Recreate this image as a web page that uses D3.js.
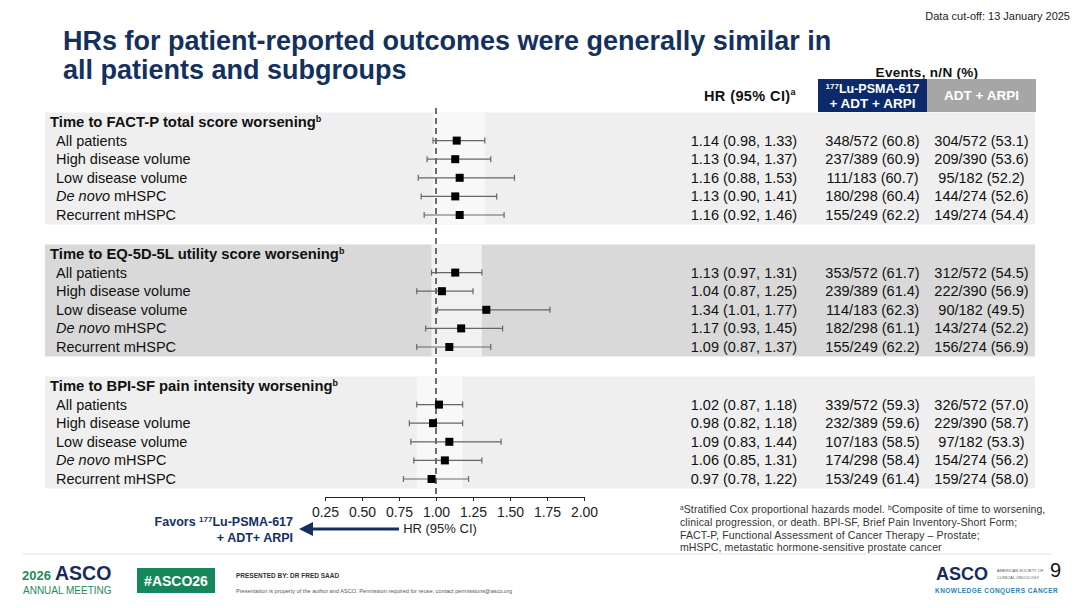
<!DOCTYPE html>
<html>
<head>
<meta charset="utf-8">
<script src="https://cdn.jsdelivr.net/npm/d3@7"></script>
<style>
  html, body { margin:0; padding:0; background:#fff; }
  svg { display:block; font-family:"Liberation Sans", Arial, sans-serif; }
</style>
</head>
<body>
<div id="chart"></div>
<script>
// Data
const sections = ["Time to FACT-P total score worsening", "Time to EQ-5D-5L utility score worsening", "Time to BPI-SF pain intensity worsening"];
const subgroups = ["All patients", "High disease volume", "Low disease volume", "De novo mHSPC", "Recurrent mHSPC"];
const hrValues = [
  [1.14, 1.13, 1.16, 1.13, 1.16],
  [1.13, 1.04, 1.34, 1.17, 1.09],
  [1.02, 0.98, 1.09, 1.06, 0.97]
];
const ciLow = [
  [0.98, 0.94, 0.88, 0.90, 0.92],
  [0.97, 0.87, 1.01, 0.93, 0.87],
  [0.87, 0.82, 0.83, 0.85, 0.78]
];
const ciHigh = [
  [1.33, 1.37, 1.53, 1.41, 1.46],
  [1.31, 1.25, 1.77, 1.45, 1.37],
  [1.18, 1.18, 1.44, 1.31, 1.22]
];
const eventsLu = [
  ["348/572 (60.8)", "237/389 (60.9)", "111/183 (60.7)", "180/298 (60.4)", "155/249 (62.2)"],
  ["353/572 (61.7)", "239/389 (61.4)", "114/183 (62.3)", "182/298 (61.1)", "155/249 (62.2)"],
  ["339/572 (59.3)", "232/389 (59.6)", "107/183 (58.5)", "174/298 (58.4)", "153/249 (61.4)"]
];
const eventsCtrl = [
  ["304/572 (53.1)", "209/390 (53.6)", "95/182 (52.2)", "144/274 (52.6)", "149/274 (54.4)"],
  ["312/572 (54.5)", "222/390 (56.9)", "90/182 (49.5)", "143/274 (52.2)", "156/274 (56.9)"],
  ["326/572 (57.0)", "229/390 (58.7)", "97/182 (53.3)", "154/274 (56.2)", "159/274 (58.0)"]
];
const tickValues = [0.25, 0.50, 0.75, 1.00, 1.25, 1.50, 1.75, 2.00];
const footnoteLines = [
  "clinical progression, or death. BPI-SF, Brief Pain Inventory-Short Form;",
  "FACT-P, Functional Assessment of Cancer Therapy \u2013 Prostate;",
  "mHSPC, metastatic hormone-sensitive prostate cancer"
];

const W = 1080, H = 608;
const navy = "#14305f", boxBlue = "#0c2a6b";
const svg = d3.select("#chart").append("svg").attr("width", W).attr("height", H);

// scales
const x = d3.scaleLinear().domain([0.25, 2.0]).range([325, 584]);
const secY = d3.scalePoint().domain(sections).range([122, 386]);
const rowY = d3.scaleLinear().domain([0, 5]).range([0, 93]);
const yOf = (s, r) => secY(sections[s]) + rowY(r);

// header text
svg.append("text").attr("x", 1070).attr("y", 20).attr("text-anchor", "end")
  .attr("font-size", 11).attr("fill", "#222").text("Data cut-off: 13 January 2025");
const title = svg.append("text").attr("font-size", 27).attr("font-weight", "bold").attr("fill", navy);
title.append("tspan").attr("x", 63).attr("y", 50).text("HRs for patient-reported outcomes were generally similar in");
title.append("tspan").attr("x", 63).attr("y", 79).text("all patients and subgroups");

// panel backgrounds
const panelFill = ["#efefef", "#d9d9d9", "#efefef"];
const bandFill = ["#f8f8f8", "#f1f1f1", "#f8f8f8"];
sections.forEach((s, i) => {
  const top = yOf(i, 0) - 9.5, bot = yOf(i, 5) + 9.5;
  svg.append("rect").attr("x", 45).attr("y", top).attr("width", 990).attr("height", bot - top).attr("fill", panelFill[i]);
  // lighter band = CI of all patients
  svg.append("rect").attr("x", x(ciLow[i][0])).attr("y", top)
    .attr("width", x(ciHigh[i][0]) - x(ciLow[i][0])).attr("height", bot - top).attr("fill", bandFill[i]);
});

// column headers
svg.append("text").attr("x", 927).attr("y", 77).attr("text-anchor", "middle")
  .attr("font-size", 13.5).attr("letter-spacing", 0.3).attr("font-weight", "bold").attr("fill", "#111").text("Events, n/N (%)");
const hrHead = svg.append("text").attr("x", 750).attr("y", 101).attr("text-anchor", "middle")
  .attr("font-size", 14.5).attr("letter-spacing", 0.4).attr("font-weight", "bold").attr("fill", "#111");
hrHead.append("tspan").text("HR (95% CI)");
hrHead.append("tspan").attr("font-size", 9).attr("dy", -6).text("a");
svg.append("rect").attr("x", 818).attr("y", 79).attr("width", 109).attr("height", 33).attr("fill", boxBlue);
svg.append("rect").attr("x", 927).attr("y", 79).attr("width", 109).attr("height", 33).attr("fill", "#a6a6a6");
const luHead = svg.append("text").attr("text-anchor", "middle").attr("font-size", 12.5)
  .attr("font-weight", "bold").attr("fill", "#fff");
const l1 = luHead.append("tspan").attr("x", 872.5).attr("y", 93);
l1.append("tspan").attr("font-size", 8).attr("dy", -4).text("177");
l1.append("tspan").attr("dy", 4).text("Lu-PSMA-617");
luHead.append("tspan").attr("x", 872.5).attr("y", 108).attr("font-size", 13.5).text("+ ADT + ARPI");
svg.append("text").attr("x", 981.5).attr("y", 100).attr("text-anchor", "middle").attr("font-size", 13.5)
  .attr("font-weight", "bold").attr("fill", "#fff").text("ADT + ARPI");

// reference line at HR = 1
svg.append("line").attr("x1", x(1)).attr("x2", x(1)).attr("y1", 108).attr("y2", 497)
  .attr("stroke", "#111").attr("stroke-width", 1.2).attr("stroke-dasharray", "6,4");

const fmt = d3.format(".2f");
sections.forEach((sec, i) => {
  const hy = yOf(i, 0);
  const ht = svg.append("text").attr("x", 50).attr("y", hy).attr("dy", "0.35em")
    .attr("font-size", 14.8).attr("font-weight", "bold").attr("fill", "#111");
  ht.append("tspan").text(sec);
  ht.append("tspan").attr("font-size", 9).attr("dy", -5).text("b");

  const rows = subgroups.map((g, j) => ({
    g, hr: hrValues[i][j], lo: ciLow[i][j], hi: ciHigh[i][j],
    e1: eventsLu[i][j], e2: eventsCtrl[i][j], y: yOf(i, j + 1)
  }));
  const grp = svg.append("g");
  // labels
  grp.selectAll("text.lab").data(rows).join("text").attr("class", "lab")
    .attr("x", 56).attr("y", d => d.y).attr("dy", "0.35em").attr("font-size", 14.5).attr("fill", "#111")
    .each(function(d) {
      const t = d3.select(this);
      if (d.g.startsWith("De novo")) {
        t.append("tspan").attr("font-style", "italic").text("De novo");
        t.append("tspan").text(" mHSPC");
      } else t.text(d.g);
    });
  // CI whiskers
  grp.selectAll("line.ci").data(rows).join("line").attr("class", "ci")
    .attr("x1", d => x(d.lo)).attr("x2", d => x(d.hi)).attr("y1", d => d.y).attr("y2", d => d.y)
    .attr("stroke", "#666").attr("stroke-width", 1.2);
  ["lo", "hi"].forEach(k => {
    grp.selectAll("line.cap" + k).data(rows).join("line").attr("class", "cap" + k)
      .attr("x1", d => x(d[k])).attr("x2", d => x(d[k])).attr("y1", d => d.y - 3).attr("y2", d => d.y + 3)
      .attr("stroke", "#666").attr("stroke-width", 1.2);
  });
  grp.selectAll("rect.pt").data(rows).join("rect").attr("class", "pt")
    .attr("x", d => x(d.hr) - 4).attr("y", d => d.y - 4).attr("width", 8).attr("height", 8).attr("fill", "#000");
  // value columns
  grp.selectAll("text.hr").data(rows).join("text").attr("class", "hr")
    .attr("x", 744).attr("y", d => d.y).attr("dy", "0.35em").attr("text-anchor", "middle")
    .attr("font-size", 14.5).attr("fill", "#111")
    .text(d => `${fmt(d.hr)} (${fmt(d.lo)}, ${fmt(d.hi)})`);
  grp.selectAll("text.e1").data(rows).join("text").attr("class", "e1")
    .attr("x", 872.5).attr("y", d => d.y).attr("dy", "0.35em").attr("text-anchor", "middle")
    .attr("font-size", 14.5).attr("fill", "#111").text(d => d.e1);
  grp.selectAll("text.e2").data(rows).join("text").attr("class", "e2")
    .attr("x", 981.5).attr("y", d => d.y).attr("dy", "0.35em").attr("text-anchor", "middle")
    .attr("font-size", 14.5).attr("fill", "#111").text(d => d.e2);
});

// x axis
const ax = svg.append("g").attr("transform", "translate(0,497)")
  .call(d3.axisBottom(x).tickValues(tickValues).tickFormat(fmt).tickSizeInner(4).tickSizeOuter(0).tickPadding(6));
ax.select(".domain").attr("stroke", "#222");
ax.selectAll(".tick line").attr("stroke", "#222");
ax.selectAll(".tick text").attr("font-size", 14).attr("fill", "#222").attr("font-family", "Liberation Sans, Arial, sans-serif");
svg.append("text").attr("x", 440).attr("y", 533).attr("text-anchor", "middle")
  .attr("font-size", 13).attr("fill", "#222").text("HR (95% CI)");

// favours arrow
svg.append("line").attr("x1", 399).attr("x2", 310).attr("y1", 529).attr("y2", 529)
  .attr("stroke", navy).attr("stroke-width", 3);
svg.append("path").attr("d", "M299,529 L313,522 L313,536 Z").attr("fill", navy);
const fav = svg.append("text").attr("text-anchor", "end").attr("font-size", 12.5).attr("font-weight", "bold").attr("fill", navy);
const f1 = fav.append("tspan").attr("x", 293).attr("y", 526);
f1.append("tspan").text("Favors ");
f1.append("tspan").attr("font-size", 8).attr("dy", -4).text("177");
f1.append("tspan").attr("dy", 4).text("Lu-PSMA-617");
fav.append("tspan").attr("x", 293).attr("y", 542).text("+ ADT+ ARPI");

// footnotes
const fn = svg.append("text").attr("font-size", 10.5).attr("letter-spacing", 0.12).attr("fill", "#333");
const fl1 = fn.append("tspan").attr("x", 680).attr("y", 513);
fl1.append("tspan").attr("font-size", 6.5).attr("dy", -3).text("a");
fl1.append("tspan").attr("dy", 3).text("Stratified Cox proportional hazards model. ");
fl1.append("tspan").attr("font-size", 6.5).attr("dy", -3).text("b");
fl1.append("tspan").attr("dy", 3).text("Composite of time to worsening,");
footnoteLines.forEach((t, k) => fn.append("tspan").attr("x", 680).attr("y", 526 + k * 12.5).text(t));

// footer
svg.append("line").attr("x1", 22).attr("x2", 1052).attr("y1", 554).attr("y2", 554).attr("stroke", "#e3e3e3");
const green = "#1f8a5c";
svg.append("text").attr("x", 22).attr("y", 580).attr("font-size", 13).attr("fill", green).attr("font-weight", "bold").text("2026");
svg.append("text").attr("x", 55).attr("y", 580).attr("font-size", 19.5).attr("fill", "#1a2a5c").attr("font-weight", "bold").text("ASCO");
svg.append("text").attr("x", 23).attr("y", 594).attr("font-size", 10).attr("fill", green).text("ANNUAL MEETING");
svg.append("rect").attr("x", 137).attr("y", 568).attr("width", 78).attr("height", 25).attr("fill", "#16875a");
svg.append("text").attr("x", 176).attr("y", 586).attr("text-anchor", "middle").attr("font-size", 14)
  .attr("font-weight", "bold").attr("fill", "#fff").text("#ASCO26");
svg.append("text").attr("x", 236).attr("y", 578).attr("font-size", 6.5).attr("font-weight", "bold").attr("fill", "#333")
  .text("PRESENTED BY: DR FRED SAAD");
svg.append("text").attr("x", 236).attr("y", 593).attr("font-size", 5.6).attr("fill", "#555")
  .text("Presentation is property of the author and ASCO. Permission required for reuse; contact permissions@asco.org");
svg.append("text").attr("x", 936).attr("y", 580).attr("font-size", 18).attr("font-weight", "bold").attr("fill", "#1a2a5c").text("ASCO");
svg.append("text").attr("x", 997).attr("y", 572).attr("font-size", 4).attr("fill", "#555").text("AMERICAN SOCIETY OF");
svg.append("text").attr("x", 997).attr("y", 579).attr("font-size", 4).attr("fill", "#555").text("CLINICAL ONCOLOGY");
svg.append("text").attr("x", 935).attr("y", 593).attr("font-size", 6.5).attr("font-weight", "bold").attr("fill", "#2d7fae")
  .attr("letter-spacing", 0.45).text("KNOWLEDGE CONQUERS CANCER");
svg.append("text").attr("x", 1061).attr("y", 577).attr("text-anchor", "end").attr("font-size", 20).attr("fill", "#111").text("9");
</script>
</body>
</html>
